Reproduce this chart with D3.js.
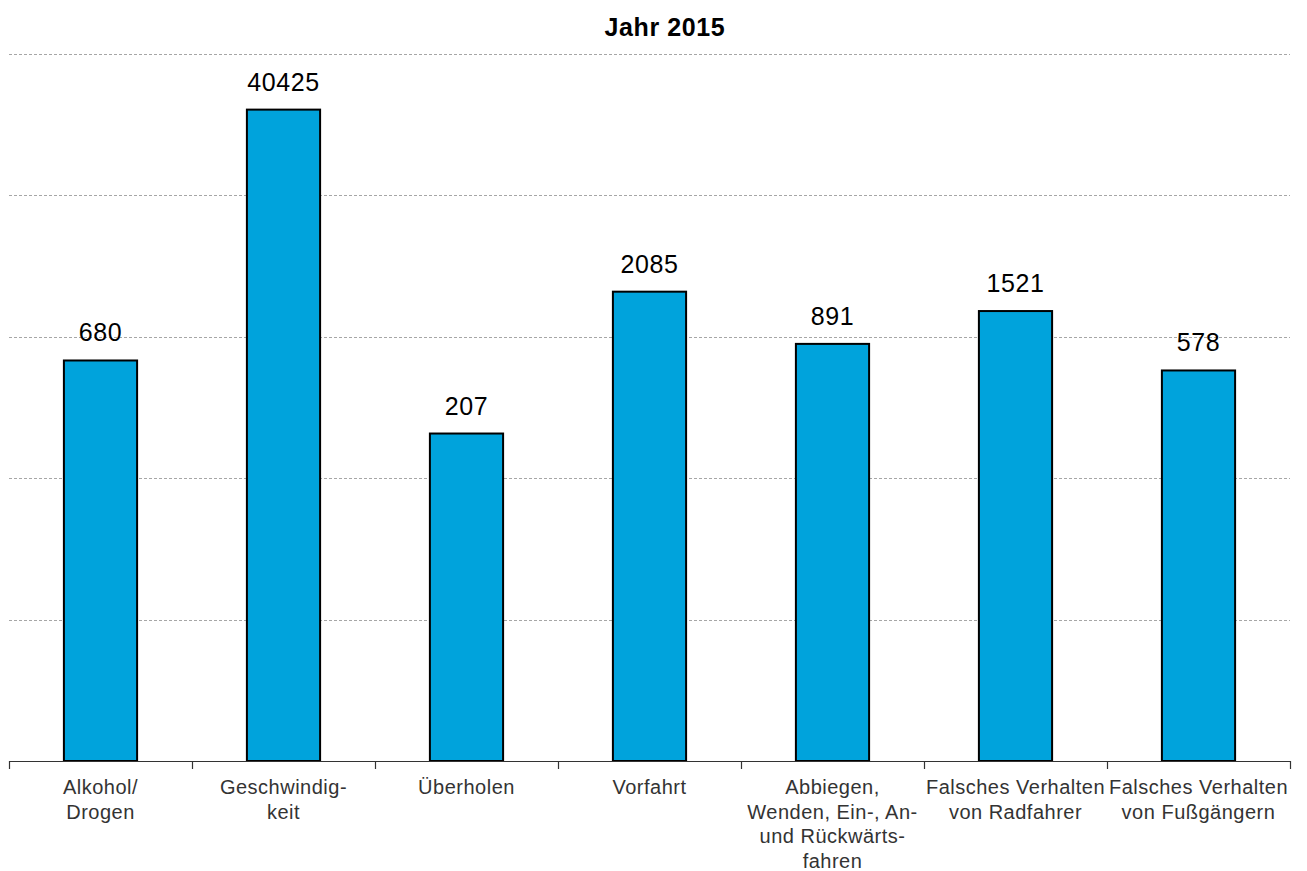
<!DOCTYPE html>
<html><head><meta charset="utf-8">
<script src="https://cdn.jsdelivr.net/npm/d3@7"></script>
<style>body{margin:0;background:#fff;}svg{display:block;font-family:"Liberation Sans",Arial,sans-serif;}</style>
</head><body>
<svg id="chart" width="1307" height="871"></svg>
<script>
const title = "Jahr 2015";
const categories = [
  ["Alkohol/","Drogen"],
  ["Geschwindig-","keit"],
  ["Überholen"],
  ["Vorfahrt"],
  ["Abbiegen,","Wenden, Ein-, An-","und Rückwärts-","fahren"],
  ["Falsches Verhalten","von Radfahrer"],
  ["Falsches Verhalten","von Fußgängern"]
];
const values = [680, 40425, 207, 2085, 891, 1521, 578];
const gridValues = [10, 100, 1000, 10000, 100000];

(function(){
const svg = d3.select("#chart");
const pLeft = 9, pRight = 1290, pTop = 54, pBottom = 761;
const ids = categories.map((c,i)=>i);
const x = d3.scaleBand().domain(ids).range([pLeft,pRight]).paddingInner(0.6).paddingOuter(0.3);
const y = d3.scaleLog().domain([1,100000]).range([pBottom,pTop]);

svg.append("text").attr("x",665).attr("y",36).attr("text-anchor","middle")
  .attr("font-weight","bold").attr("font-size",25).attr("letter-spacing",0.6)
  .attr("fill","#000").text(title);

svg.append("g").selectAll("line").data(gridValues).join("line")
  .attr("x1",pLeft).attr("x2",pRight)
  .attr("y1",d=>Math.round(y(d))+0.5).attr("y2",d=>Math.round(y(d))+0.5)
  .attr("stroke","#a6a6a6").attr("stroke-width",1).attr("stroke-dasharray","3,2");

svg.append("g").selectAll("rect").data(values).join("rect")
  .attr("x",(d,i)=>x(i)).attr("width",x.bandwidth())
  .attr("y",d=>y(d)).attr("height",d=>pBottom-y(d))
  .attr("fill","#00a3dc").attr("stroke","#000").attr("stroke-width",2);

svg.append("g").selectAll("text").data(values).join("text")
  .attr("x",(d,i)=>x(i)+x.bandwidth()/2).attr("y",d=>y(d)-19)
  .attr("text-anchor","middle").attr("font-size",25).attr("letter-spacing",0.6)
  .attr("fill","#000").text(d=>d);

svg.append("line").attr("x1",pLeft).attr("x2",pRight).attr("y1",pBottom+0.5).attr("y2",pBottom+0.5)
  .attr("stroke","#333").attr("stroke-width",1.2);
const step = x.step();
const tickPos = d3.range(categories.length+1).map(i=>pLeft+i*step);
svg.append("g").selectAll("line").data(tickPos).join("line")
  .attr("x1",d=>Math.round(d)+0.5).attr("x2",d=>Math.round(d)+0.5)
  .attr("y1",pBottom).attr("y2",pBottom+8).attr("stroke","#333").attr("stroke-width",1.2);

const lab = svg.append("g").selectAll("text").data(categories).join("text")
  .attr("text-anchor","middle").attr("font-size",20).attr("letter-spacing",0.5).attr("fill","#333");
lab.each(function(lines,i){
  const t = d3.select(this);
  lines.forEach((l,j)=>{
    t.append("tspan").attr("x",x(i)+x.bandwidth()/2).attr("y",794+j*24.5).text(l);
  });
});
})();
</script>
</body></html>
